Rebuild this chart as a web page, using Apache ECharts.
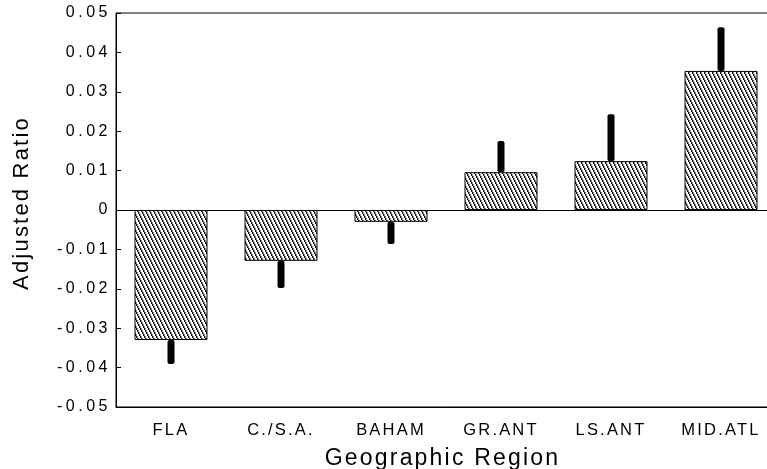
<!DOCTYPE html>
<html>
<head>
<meta charset="utf-8">
<script src="https://cdn.jsdelivr.net/npm/echarts@6/dist/echarts.min.js"></script>
<style>
  html, body { margin: 0; padding: 0; background: #fff; }
  #main { width: 767px; height: 469px; }
</style>
</head>
<body>
<div id="main"></div>
<script>
// data
var regions = ["FLA", "C./S.A.", "BAHAM", "GR.ANT", "LS.ANT", "MID.ATL"];
var ratios = [-0.033, -0.0129, -0.003, 0.0096, 0.0124, 0.0353];
var errEnds = [-0.0391, -0.0198, -0.0086, 0.0175, 0.0243, 0.0464];
var yTicks = ["-0.05", "-0.04", "-0.03", "-0.02", "-0.01", "0", "0.01", "0.02", "0.03", "0.04", "0.05"];

var FONT = "'Liberation Sans', Arial, sans-serif";

// the old plot has wide letter spacing, canvas can do it natively
var origFillText = CanvasRenderingContext2D.prototype.fillText;
CanvasRenderingContext2D.prototype.fillText = function (t, x, y, m) {
  var sz = /(\d+(\.\d+)?)px/.exec(this.font);
  var px = sz ? parseFloat(sz[1]) : 12;
  this.letterSpacing = px === 16 ? "3.5px" : "2.2px";
  if (m === undefined) origFillText.call(this, t, x, y);
  else origFillText.call(this, t, x, y, m);
  this.letterSpacing = "0px";
};

// hatch pattern, steep "\\\\"
function makeHatch() {
  var c = document.createElement("canvas");
  c.width = 4; c.height = 8;
  var ctx = c.getContext("2d");
  ctx.fillStyle = "#fff";
  ctx.fillRect(0, 0, 4, 8);
  for (var y = 0; y < 8; y++) {
    var xo = Math.floor(y / 2);
    ctx.fillStyle = "#111";
    ctx.fillRect(xo % 4, y, 1, 1);
    ctx.fillStyle = "#888";
    ctx.fillRect((xo + 1) % 4, y, 1, 1);
  }
  return c;
}

var errData = regions.map(function (r, i) { return [i, ratios[i], errEnds[i]]; });

var myChart = echarts.init(document.getElementById("main"));
myChart.setOption({
  animation: false,
  grid: {
    left: 116, top: 13, width: 660, height: 394,
    outerBoundsMode: "none",
    show: true, borderColor: "#000", borderWidth: 1, backgroundColor: "transparent"
  },
  xAxis: {
    type: "category",
    data: regions,
    name: "Geographic Region",
    nameLocation: "middle",
    nameGap: 40,
    nameTextStyle: { color: "#000", fontSize: 23, fontFamily: FONT, padding: [0, 7, 0, 0] },
    axisLine: { onZero: false, lineStyle: { color: "#000" } },
    axisTick: { inside: true, alignWithLabel: true, length: 5, lineStyle: { color: "#000" } },
    axisLabel: { color: "#000", fontSize: 16.5, fontFamily: FONT, margin: 15 },
    splitLine: { show: false }
  },
  yAxis: {
    type: "value",
    min: -0.05, max: 0.05, interval: 0.01,
    name: "Adjusted Ratio",
    nameLocation: "middle",
    nameGap: 83,
    nameTextStyle: { color: "#000", fontSize: 22, fontFamily: FONT, padding: [0, 0, 0, 14] },
    axisLine: { show: true, lineStyle: { color: "#000" } },
    axisTick: { show: true, inside: true, length: 5, lineStyle: { color: "#000" } },
    axisLabel: {
      color: "#000", fontSize: 16, fontFamily: FONT, margin: 5,
      formatter: function (v) {
        var idx = Math.round((v + 0.05) / 0.01);
        return yTicks[idx];
      }
    },
    splitLine: { show: false }
  },
  series: [
    {
      type: "bar",
      data: ratios,
      barWidth: 73,
      itemStyle: {
        color: { image: makeHatch(), repeat: "repeat" },
        borderColor: "#000",
        borderWidth: 1
      },
      markLine: {
        silent: true,
        symbol: "none",
        label: { show: false },
        lineStyle: { color: "#000", width: 1, type: "solid" },
        data: [{ yAxis: 0 }]
      }
    },
    {
      type: "custom",
      data: errData,
      renderItem: function (params, api) {
        var p0 = api.coord([api.value(0), api.value(1)]);
        var p1 = api.coord([api.value(0), api.value(2)]);
        return {
          type: "rect",
          shape: { x: p0[0] - 3.5, y: Math.min(p0[1], p1[1]), width: 7, height: Math.abs(p1[1] - p0[1]), r: 2 },
          style: { fill: "#000" }
        };
      },
      z: 3
    }
  ]
});
</script>
</body>
</html>
